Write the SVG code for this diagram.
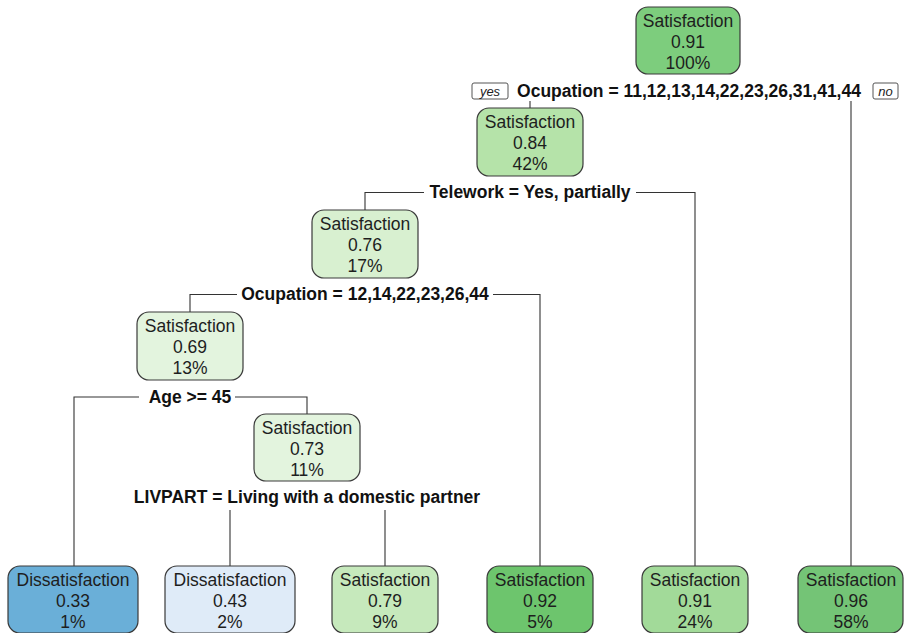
<svg xmlns="http://www.w3.org/2000/svg" width="904" height="633" viewBox="0 0 904 633">
<style>
.bg{fill:#ffffff}
.n{stroke:#3a3a3a;stroke-width:1.2}
.t{font-family:"Liberation Sans",Arial,sans-serif;font-size:17.5px;fill:#1e1e1e;text-anchor:middle}
.s{font-family:"Liberation Sans",Arial,sans-serif;font-size:17.5px;font-weight:bold;fill:#111;text-anchor:middle}
.yn{fill:#fff;stroke:#555;stroke-width:1}
.ynt{font-family:"Liberation Sans",Arial,sans-serif;font-size:13px;font-style:italic;fill:#222;text-anchor:middle}
.c{fill:none;stroke:#333;stroke-width:1.1}
</style>
<rect class="bg" x="0" y="0" width="904" height="633"/>
<g id="connectors">
<path class="c" d="M530,101 V108"/>
<path class="c" d="M851,101 V566"/>
<path class="c" d="M365,210 V192.5 H424 M636,192.5 H695 V566"/>
<path class="c" d="M190,312 V294.5 H237 M493,294.5 H540 V566"/>
<path class="c" d="M74,566 V397 H139 M235,397 H307 V414"/>
<path class="c" d="M230,510 V566 M385,510 V566"/>
</g>
<g id="split-labels">
<g id="yes"><rect class="yn" x="472" y="83" width="36" height="16" rx="2"/><text class="ynt" x="490" y="96">yes</text></g>
<g id="no"><rect class="yn" x="873" y="83" width="25" height="16" rx="2"/><text class="ynt" x="885.5" y="96">no</text></g>
<text class="s" x="689" y="97">Ocupation = 11,12,13,14,22,23,26,31,41,44</text>
<text class="s" x="530" y="198">Telework = Yes, partially</text>
<text class="s" x="365" y="300">Ocupation = 12,14,22,23,26,44</text>
<text class="s" x="190" y="403">Age &gt;= 45</text>
<text class="s" x="307" y="503">LIVPART = Living with a domestic partner</text>
</g>
<g id="node-root"><rect class="n" x="636" y="7" width="104" height="67" rx="12" fill="#7dcd7d"/>
<text class="t" x="688" y="27">Satisfaction</text><text class="t" x="688" y="48">0.91</text><text class="t" x="688" y="69">100%</text></g>
<g id="node-2"><rect class="n" x="477" y="108" width="106" height="68" rx="12" fill="#b5e3a9"/>
<text class="t" x="530" y="128">Satisfaction</text><text class="t" x="530" y="149">0.84</text><text class="t" x="530" y="170">42%</text></g>
<g id="node-3"><rect class="n" x="312" y="210" width="106" height="68" rx="12" fill="#d8f0d0"/>
<text class="t" x="365" y="230">Satisfaction</text><text class="t" x="365" y="251">0.76</text><text class="t" x="365" y="272">17%</text></g>
<g id="node-4"><rect class="n" x="137" y="312" width="106" height="68" rx="12" fill="#e3f4de"/>
<text class="t" x="190" y="332">Satisfaction</text><text class="t" x="190" y="353">0.69</text><text class="t" x="190" y="374">13%</text></g>
<g id="node-5"><rect class="n" x="254" y="414" width="106" height="67" rx="12" fill="#e3f4de"/>
<text class="t" x="307" y="434">Satisfaction</text><text class="t" x="307" y="455">0.73</text><text class="t" x="307" y="476">11%</text></g>
<g id="leaf-1"><rect class="n" x="8" y="566" width="130" height="67" rx="12" fill="#6aafd8"/>
<text class="t" x="73" y="586">Dissatisfaction</text><text class="t" x="73" y="607">0.33</text><text class="t" x="73" y="628">1%</text></g>
<g id="leaf-2"><rect class="n" x="165" y="566" width="130" height="67" rx="12" fill="#dfebf8"/>
<text class="t" x="230" y="586">Dissatisfaction</text><text class="t" x="230" y="607">0.43</text><text class="t" x="230" y="628">2%</text></g>
<g id="leaf-3"><rect class="n" x="332" y="566" width="106" height="67" rx="12" fill="#c6e9bc"/>
<text class="t" x="385" y="586">Satisfaction</text><text class="t" x="385" y="607">0.79</text><text class="t" x="385" y="628">9%</text></g>
<g id="leaf-4"><rect class="n" x="487" y="566" width="106" height="67" rx="12" fill="#6dc56d"/>
<text class="t" x="540" y="586">Satisfaction</text><text class="t" x="540" y="607">0.92</text><text class="t" x="540" y="628">5%</text></g>
<g id="leaf-5"><rect class="n" x="642" y="566" width="106" height="67" rx="12" fill="#a2da99"/>
<text class="t" x="695" y="586">Satisfaction</text><text class="t" x="695" y="607">0.91</text><text class="t" x="695" y="628">24%</text></g>
<g id="leaf-6"><rect class="n" x="798" y="566" width="105" height="67" rx="12" fill="#74c476"/>
<text class="t" x="851" y="586">Satisfaction</text><text class="t" x="851" y="607">0.96</text><text class="t" x="851" y="628">58%</text></g>
</svg>
